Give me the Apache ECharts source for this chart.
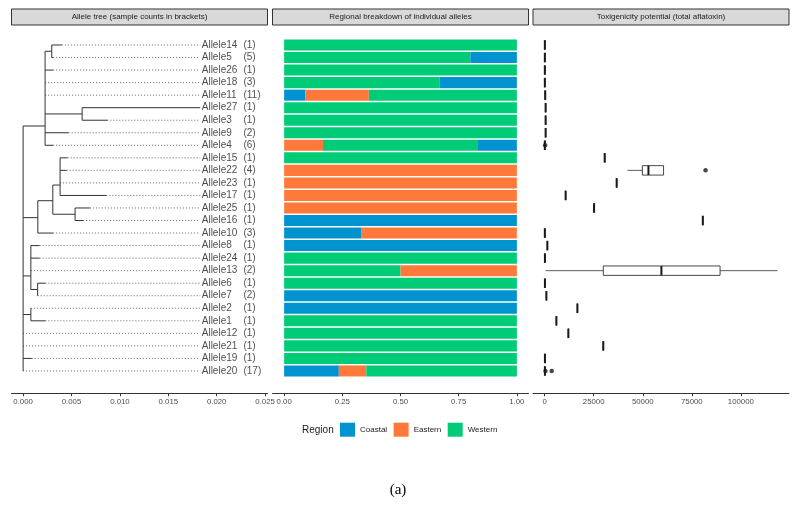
<!DOCTYPE html>
<html>
<head>
<meta charset="utf-8">
<script src="https://cdn.jsdelivr.net/npm/echarts@6/dist/echarts.min.js"></script>
<style>html,body{margin:0;padding:0;background:#fff}#c{width:796px;height:519px}</style>
</head>
<body>
<div id="c"></div>
<script>
// ---------- data ----------
const alleles = ['Allele14','Allele5','Allele26','Allele18','Allele11','Allele27','Allele3','Allele9','Allele4','Allele15','Allele22','Allele23','Allele17','Allele25','Allele16','Allele10','Allele8','Allele24','Allele13','Allele6','Allele7','Allele2','Allele1','Allele12','Allele21','Allele19','Allele20'];
const sampleCounts = [1,5,1,3,11,1,1,2,6,1,4,1,1,1,1,3,1,1,2,1,2,1,1,1,1,1,17];

// tree: tip branch-end depths and parents
const tipDepth = [0.0040,0.0031,0.0031,0.00227,0.00227,0.0183,0.0087,0.0047,0.0031,0.0046,0.0045,0.0038,0.0086,0.0069,0.0062,0.0031,0.0017,0.0017,0.0008,0.0023,0.0015,0.0008,0.0023,0,0,0.0009,0];
const tipParent = ['S1','S1','A','A','A','S2','S2','A','A','C','C','C','C','S3','S3','E','F','F','F','S4','S4','G','G','root','root','root','root'];
// internal nodes
const nodeNames  = ['A','S1','S2','E','D','C','S3','F','S4','G'];
const nodeParent = ['root','A','A','root','E','D','D','root','F','root'];
const nodeDepth  = [0.00227,0.00296,0.0061,0.00152,0.00307,0.00382,0.00537,0.0008,0.0015,0.0008];
const nodeRow    = [6.46,0.5,5.5,13.77,12.42,11.17,13.5,18.42,19.5,21.5];
const treeTicks = [0,0.005,0.010,0.015,0.020,0.025];

// regional breakdown (fractions) and the stacking order in each bar
const coastal = [0,0.2,0,0.333,0.091,0,0,0,0.167,0,0,0,0,0,1,0.333,1,0,0,0,1,1,0,0,0,0,0.235];
const eastern = [0,0,0,0,0.273,0,0,0,0.167,0,1,1,1,1,0,0.667,0,0,0.5,0,0,0,0,0,0,0,0.118];
const western = [1,0.8,1,0.667,0.636,1,1,1,0.666,1,0,0,0,0,0,0,0,1,0.5,1,0,0,1,1,1,1,0.647];
const stackOrder = ['W','WC','W','WC','CEW','W','W','W','EWC','W','E','E','E','E','C','CE','C','W','WE','W','C','C','W','W','W','W','CEW'];
const regionTicks = [0,0.25,0.5,0.75,1];

// toxigenicity (total aflatoxin) box statistics
const toxMin = [100,100,100,100,300,500,500,500,100,30600,42200,36700,10700,25200,80600,100,1400,150,500,150,900,16700,6000,12100,29900,150,150];
const toxQ1  = [100,100,100,100,300,500,500,500,100,30600,49800,36700,10700,25200,80600,100,1400,150,29900,150,900,16700,6000,12100,29900,150,150];
const toxMed = [100,100,100,100,300,500,500,500,100,30600,52900,36700,10700,25200,80600,100,1400,150,59500,150,900,16700,6000,12100,29900,150,150];
const toxQ3  = [100,100,100,100,300,500,500,500,100,30600,60600,36700,10700,25200,80600,100,1400,150,89400,150,900,16700,6000,12100,29900,150,150];
const toxMax = [100,100,100,100,300,500,500,500,100,30600,60600,36700,10700,25200,80600,100,1400,150,118700,150,900,16700,6000,12100,29900,150,150];
const toxOutlierAllele = ['Allele4','Allele22','Allele20','Allele20'];
const toxOutlierValue  = [250,82000,400,3600];
const toxTicks = [0,25000,50000,75000,100000];

const regionNames = ['Coastal','Eastern','Western'];
const regionColors = {C:'#0093D0', E:'#FF7A3A', W:'#00CC78'};

// ---------- build ----------
const FONT = 'Liberation Sans, Arial, Helvetica, sans-serif';
const pos = {root:{depth:0}};
nodeNames.forEach((n,i)=>{pos[n]={depth:nodeDepth[i], row:nodeRow[i]};});
const labelX = Math.max(...tipDepth);
const solidSegs = [], dotSegs = [];
const childRows = {};
function addChild(p,row){(childRows[p]=childRows[p]||[]).push(row);}
alleles.forEach((a,i)=>{
  const pd = pos[tipParent[i]].depth;
  if (tipDepth[i] > pd) solidSegs.push([pd,i,tipDepth[i],i]);
  if (labelX > tipDepth[i]) dotSegs.push([tipDepth[i],i,labelX,i]);
  addChild(tipParent[i], i);
});
nodeNames.forEach((n,i)=>{
  const pd = pos[nodeParent[i]].depth;
  solidSegs.push([pd,nodeRow[i],nodeDepth[i],nodeRow[i]]);
  addChild(nodeParent[i], nodeRow[i]);
});
Object.keys(childRows).forEach(p=>{
  const rows = childRows[p];
  solidSegs.push([pos[p].depth, Math.min(...rows), pos[p].depth, Math.max(...rows)]);
});

function segRender(dash){
  return function(params, api){
    const p1 = api.coord([api.value(0), api.value(1)]);
    const p2 = api.coord([api.value(2), api.value(3)]);
    return {type:'line', shape:{x1:p1[0],y1:p1[1],x2:p2[0],y2:p2[1]},
      style:{stroke: dash ? '#555' : '#333', lineWidth: dash ? 0.9 : 1, lineDash: dash ? [1,2] : null, fill:null}};
  };
}

const fracOf = {C:coastal, E:eastern, W:western};
const segSeries = [0,1,2].map(k=>({
  type:'bar', name:'seg'+k, stack:'reg', xAxisIndex:1, yAxisIndex:1, barWidth:'88%',
  data: alleles.map((a,i)=>{
    const r = stackOrder[i][k];
    if (!r) return '-';
    return {value: fracOf[r][i], itemStyle:{color: regionColors[r]}};
  })
}));
const legendDummies = regionNames.map((n,j)=>({
  type:'bar', name:n, stack:'reg', xAxisIndex:1, yAxisIndex:1, data:[],
  itemStyle:{color: regionColors[n[0]]}
}));

const boxData = alleles.map((a,i)=>[i,toxMin[i],toxQ1[i],toxMed[i],toxQ3[i],toxMax[i]]);
const outlierData = toxOutlierAllele.map((a,j)=>[toxOutlierValue[j], alleles.indexOf(a)]);

const GT = 38.73, GH = 338.5, PW = 256;
const panelLeft = [11.5, 272.5, 533];
const stripTitles = ['Allele tree (sample counts in brackets)','Regional breakdown of individual alleles','Toxigenicity potential (total aflatoxin)'];

function xAxisBase(grid, min, max, ticks, fmt){
  return {type:'value', gridIndex:grid, min:min, max:max, offset:16,
    axisLine:{show:true, onZero:false, lineStyle:{color:'#333', width:1}},
    axisTick:{show:true, length:3, lineStyle:{color:'#333'}, customValues:ticks},
    axisLabel:{show:true, customValues:ticks, formatter:fmt, fontSize:7.8, color:'#4d4d4d', margin:5, fontFamily:FONT},
    splitLine:{show:false}};
}

const graphics = [];
stripTitles.forEach((t,k)=>{
  graphics.push({type:'rect', shape:{x:panelLeft[k], y:9, width:PW, height:16}, style:{fill:'#d9d9d9', stroke:'#333', lineWidth:1}, silent:true});
  graphics.push({type:'text', x:panelLeft[k]+PW/2, y:17, style:{text:t, align:'center', verticalAlign:'middle', fontSize:8, fill:'#1a1a1a', fontFamily:FONT}, silent:true});
});
graphics.push({type:'text', x:302, y:430, style:{text:'Region', align:'left', verticalAlign:'middle', fontSize:10, fill:'#1a1a1a', fontFamily:FONT}});
graphics.push({type:'text', x:398, y:490, style:{text:'(a)', align:'center', verticalAlign:'middle', fontSize:15, fill:'#000', fontFamily:'Liberation Serif, DejaVu Serif, serif'}});

const option = {
  animation:false,
  backgroundColor:'#fff',
  textStyle:{fontFamily:FONT},
  grid:[
    {left:panelLeft[0], top:GT, width:PW, height:GH},
    {left:panelLeft[1], top:GT, width:PW, height:GH},
    {left:panelLeft[2], top:GT, width:PW, height:GH}
  ],
  xAxis:[
    xAxisBase(0, -0.0012, 0.02525, treeTicks, v=>v.toFixed(3)),
    xAxisBase(1, -0.05, 1.05, regionTicks, v=>v.toFixed(2)),
    xAxisBase(2, -5930, 124530, toxTicks, v=>String(v))
  ],
  yAxis:[
    {type:'value', gridIndex:0, min:-0.5, max:26.5, inverse:true, show:false, splitLine:{show:false}},
    {type:'category', gridIndex:1, data:alleles, inverse:true, show:false},
    {type:'category', gridIndex:2, data:alleles, inverse:true, show:false}
  ],
  legend:{data:regionNames, left:340, top:422.7, padding:0, itemWidth:15, itemHeight:14, itemGap:6.5, icon:'rect', selectedMode:false,
    textStyle:{fontSize:8, color:'#1a1a1a', fontFamily:FONT}},
  graphic:graphics,
  series:[
    {type:'custom', xAxisIndex:0, yAxisIndex:0, silent:true, renderItem:segRender(true), data:dotSegs, encode:{x:[0,2], y:[1,3]}, clip:false},
    {type:'custom', xAxisIndex:0, yAxisIndex:0, silent:true, renderItem:segRender(false), data:solidSegs, encode:{x:[0,2], y:[1,3]}, clip:false},
    {type:'scatter', xAxisIndex:0, yAxisIndex:0, silent:true, symbolSize:0.01, itemStyle:{color:'transparent'},
      data: alleles.map((a,i)=>[labelX, i, a, sampleCounts[i]]),
      label:{show:true, position:'right', distance:1.5,
        formatter: p=>'{n|'+p.data[2]+'}{c|('+p.data[3]+')}',
        rich:{n:{width:41.7, fontSize:10, color:'#1a1a1a', fontFamily:FONT}, c:{fontSize:10, color:'#1a1a1a', fontFamily:FONT}}}},
    ...segSeries,
    ...legendDummies,
    {type:'custom', xAxisIndex:2, yAxisIndex:2, silent:true, data:boxData, encode:{y:0, x:[1,2,3,4,5]},
      renderItem:function(params, api){
        const y = api.value(0);
        const h = api.size([0,1])[1]*0.75;
        const pMin = api.coord([api.value(1), y]);
        const pQ1 = api.coord([api.value(2), y]);
        const pMed = api.coord([api.value(3), y]);
        const pQ3 = api.coord([api.value(4), y]);
        const pMax = api.coord([api.value(5), y]);
        const cy = pMed[1];
        const ch = [];
        if (pQ1[0] > pMin[0]) ch.push({type:'line', shape:{x1:pMin[0],y1:cy,x2:pQ1[0],y2:cy}, style:{stroke:'#333', lineWidth:0.8}});
        if (pMax[0] > pQ3[0]) ch.push({type:'line', shape:{x1:pQ3[0],y1:cy,x2:pMax[0],y2:cy}, style:{stroke:'#333', lineWidth:0.8}});
        ch.push({type:'rect', shape:{x:pQ1[0], y:cy-h/2, width:pQ3[0]-pQ1[0], height:h}, style:{fill:'#fff', stroke:'#333', lineWidth:0.9}});
        ch.push({type:'line', shape:{x1:pMed[0],y1:cy-h/2,x2:pMed[0],y2:cy+h/2}, style:{stroke:'#1a1a1a', lineWidth:2}});
        return {type:'group', children:ch};
      }},
    {type:'scatter', xAxisIndex:2, yAxisIndex:2, silent:true, symbol:'circle', symbolSize:4.5, itemStyle:{color:'#1a1a1a'}, data:outlierData}
  ]
};
const chart = echarts.init(document.getElementById('c'), null, {renderer:'canvas'});
chart.setOption(option);
</script>
</body>
</html>
